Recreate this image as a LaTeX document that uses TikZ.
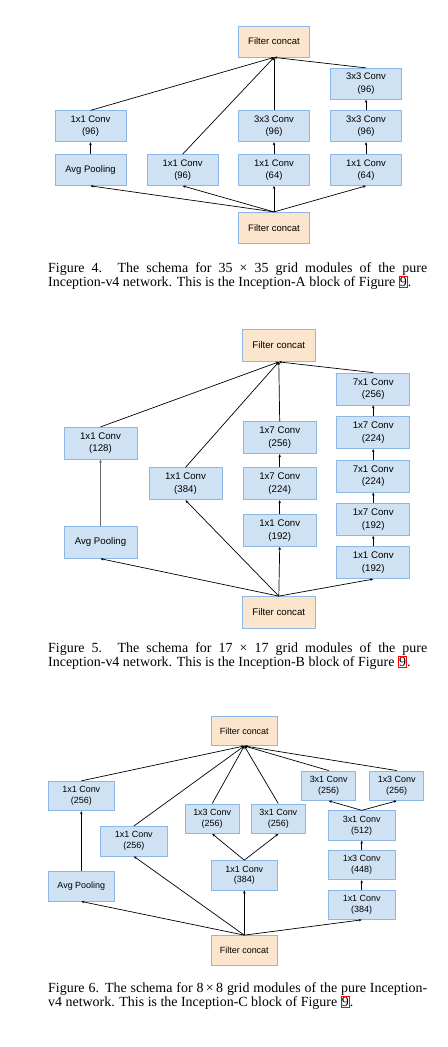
\documentclass[tikz,border=0pt]{standalone}
\usepackage{fontspec}
\setmainfont{Liberation Serif}
\newfontfamily\boxfont{Liberation Sans}
\usetikzlibrary{arrows.meta}
\definecolor{convfill}{HTML}{CFE2F3}
\definecolor{concatfill}{HTML}{FCE5CD}
\definecolor{boxline}{HTML}{8DB8E6}
\newcommand{\figlink}[1]{{\fboxsep=0.3pt\fboxrule=0.8pt\fcolorbox{red}{white}{#1}}}

\begin{document}
\begin{tikzpicture}[
  conv/.style={draw=boxline,line width=0.8bp,fill=convfill,align=center,inner sep=0pt},
  concat/.style={draw=boxline,line width=0.8bp,fill=concatfill,align=center,inner sep=0pt},
  sizeA/.style={minimum width=71bp,minimum height=31bp,font=\boxfont\fontsize{9.5}{12.3}\selectfont},
  sizeB/.style={minimum width=73bp,minimum height=32bp,font=\boxfont\fontsize{9.7}{12.5}\selectfont},
  sizeC/.style={minimum width=66.5bp,minimum height=29.5bp,font=\boxfont\fontsize{9}{11}\selectfont},
  narrowC/.style={sizeC,minimum width=54bp},
  flow/.style={->,>={Stealth[length=3bp,width=2.6bp]},line width=0.7bp},
  caption/.style={anchor=north west,inner sep=0pt,text width=379bp,align=justify,font=\fontsize{14}{13.8}\selectfont}]
\path[fill=white] (0bp,0bp) rectangle (448bp,-1047bp);
\useasboundingbox (0bp,0bp) rectangle (448bp,-1047bp);

% Inception-A
\node (A_out) at (274bp,-41.5bp)[concat,sizeA] {Filter concat};
\node (A_c4) at (366bp,-83.8bp)[conv,sizeA] {3x3 Conv\\(96)};
\node (A_p2) at (90.5bp,-126.3bp)[conv,sizeA] {1x1 Conv\\(96)};
\node (A_c2) at (274bp,-126.3bp)[conv,sizeA] {3x3 Conv\\(96)};
\node (A_c3) at (366bp,-126.3bp)[conv,sizeA] {3x3 Conv\\(96)};
\node (A_p1) at (90.5bp,-170bp)[conv,sizeA] {Avg Pooling};
\node (A_b1) at (182.7bp,-170bp)[conv,sizeA] {1x1 Conv\\(96)};
\node (A_b2) at (274bp,-170bp)[conv,sizeA] {1x1 Conv\\(64)};
\node (A_b3) at (366bp,-170bp)[conv,sizeA] {1x1 Conv\\(64)};
\node (A_in) at (274bp,-227.8bp)[concat,sizeA] {Filter concat};
\draw [flow] (A_in.north) -- (A_p1.south);
\draw [flow] (A_in.north) -- (A_b1.south);
\draw [flow] (A_in.north) -- (A_b2.south);
\draw [flow] (A_in.north) -- (A_b3.south);
\draw [flow] (A_p1) -- (A_p2);
\draw [flow] (A_b2) -- (A_c2);
\draw [flow] (A_b3) -- (A_c3);
\draw [flow] (A_c3) -- (A_c4);
\draw [flow] (A_p2.north) -- (A_out.south);
\draw [flow] (A_b1.north) -- (A_out.south);
\draw [flow] (A_c2.north) -- (A_out.south);
\draw [flow] (A_c4.north) -- (A_out.south);
\node (A_cap) at (48bp,-262.3bp)[caption] {Figure 4. The schema for 35 × 35 grid modules of the pure\linebreak Inception-v4 network. This is the Inception-A block of Figure \figlink{9}.};

% Inception-B
\node (B_out) at (278.8bp,-345.5bp)[concat,sizeB] {Filter concat};
\node (B_d5) at (373.2bp,-389bp)[conv,sizeB] {7x1 Conv\\(256)};
\node (B_d4) at (373.2bp,-432.7bp)[conv,sizeB] {1x7 Conv\\(224)};
\node (B_d3) at (373.2bp,-476.2bp)[conv,sizeB] {7x1 Conv\\(224)};
\node (B_d2) at (373.2bp,-519.5bp)[conv,sizeB] {1x7 Conv\\(192)};
\node (B_d1) at (373.2bp,-562.7bp)[conv,sizeB] {1x1 Conv\\(192)};
\node (B_c3) at (279.7bp,-437.8bp)[conv,sizeB] {1x7 Conv\\(256)};
\node (B_c2) at (279.7bp,-483.8bp)[conv,sizeB] {1x7 Conv\\(224)};
\node (B_c1) at (279.7bp,-530.5bp)[conv,sizeB] {1x1 Conv\\(192)};
\node (B_b1) at (185.5bp,-483.8bp)[conv,sizeB] {1x1 Conv\\(384)};
\node (B_p2) at (100.5bp,-443.3bp)[conv,sizeB] {1x1 Conv\\(128)};
\node (B_p1) at (100.5bp,-542.3bp)[conv,sizeB] {Avg Pooling};
\node (B_in) at (278.8bp,-612.5bp)[concat,sizeB] {Filter concat};
\draw [flow] (B_in.north) -- (B_p1.south);
\draw [flow] (B_in.north) -- (B_b1.south);
\draw [flow] (B_in.north) -- (B_c1.south);
\draw [flow] (B_in.north) -- (B_d1.south);
\draw [flow,draw=black!60,line width=1bp] (B_p1) -- (B_p2);
\draw [flow] (B_c1) -- (B_c2);
\draw [flow] (B_c2) -- (B_c3);
\draw [flow] (B_d1) -- (B_d2);
\draw [flow] (B_d2) -- (B_d3);
\draw [flow] (B_d3) -- (B_d4);
\draw [flow] (B_d4) -- (B_d5);
\draw [flow] (B_p2.north) -- (B_out.south);
\draw [flow] (B_b1.north) -- (B_out.south);
\draw [flow] (B_c3.north) -- (B_out.south);
\draw [flow] (B_d5.north) -- (B_out.south);
\node (B_cap) at (48bp,-642.8bp)[caption] {Figure 5. The schema for 17 × 17 grid modules of the pure\linebreak Inception-v4 network. This is the Inception-B block of Figure \figlink{9}.};

% Inception-C
\node (C_out) at (244.3bp,-730.8bp)[concat,sizeC] {Filter concat};
\node (C_p2) at (81.3bp,-796bp)[conv,sizeC] {1x1 Conv\\(256)};
\node (C_p1) at (81.3bp,-886.3bp)[conv,sizeC] {Avg Pooling};
\node (C_b1) at (133.8bp,-841.2bp)[conv,sizeC] {1x1 Conv\\(256)};
\node (C_c2) at (212.2bp,-818.7bp)[conv,narrowC] {1x3 Conv\\(256)};
\node (C_c3) at (278.3bp,-818.7bp)[conv,narrowC] {3x1 Conv\\(256)};
\node (C_c1) at (244.3bp,-875.3bp)[conv,sizeC] {1x1 Conv\\(384)};
\node (C_d4) at (328.7bp,-785.7bp)[conv,narrowC] {3x1 Conv\\(256)};
\node (C_d5) at (396.7bp,-785.7bp)[conv,narrowC] {1x3 Conv\\(256)};
\node (C_d3) at (361.7bp,-825.5bp)[conv,sizeC] {3x1 Conv\\(512)};
\node (C_d2) at (361.7bp,-865bp)[conv,sizeC] {1x3 Conv\\(448)};
\node (C_d1) at (361.7bp,-904.7bp)[conv,sizeC] {1x1 Conv\\(384)};
\node (C_in) at (244.3bp,-950.3bp)[concat,sizeC] {Filter concat};
\draw [flow] (C_in.north) -- (C_p1.south);
\draw [flow] (C_in.north) -- (C_b1.south);
\draw [flow] (C_in.north) -- (C_c1.south);
\draw [flow] (C_in.north) -- (C_d1.south);
\draw [flow] (C_p1) -- (C_p2);
\draw [flow] (C_c1.north) -- (C_c2.south);
\draw [flow] (C_c1.north) -- (C_c3.south);
\draw [flow] (C_d1) -- (C_d2);
\draw [flow] (C_d2) -- (C_d3);
\draw [flow] (C_d3.north) -- (C_d4.south);
\draw [flow] (C_d3.north) -- (C_d5.south);
\draw [flow] (C_p2.north) -- (C_out.south);
\draw [flow] (C_b1.north) -- (C_out.south);
\draw [flow] (C_c2.north) -- (C_out.south);
\draw [flow] (C_c3.north) -- (C_out.south);
\draw [flow] (C_d4.north) -- (C_out.south);
\draw [flow] (C_d5.north) -- (C_out.south);
\node (C_cap) at (48bp,-982.3bp)[caption] {Figure 6. The schema for 8\,×\,8 grid modules of the pure Inception-\linebreak v4 network. This is the Inception-C block of Figure \figlink{9}.};
\end{tikzpicture}
\end{document}
